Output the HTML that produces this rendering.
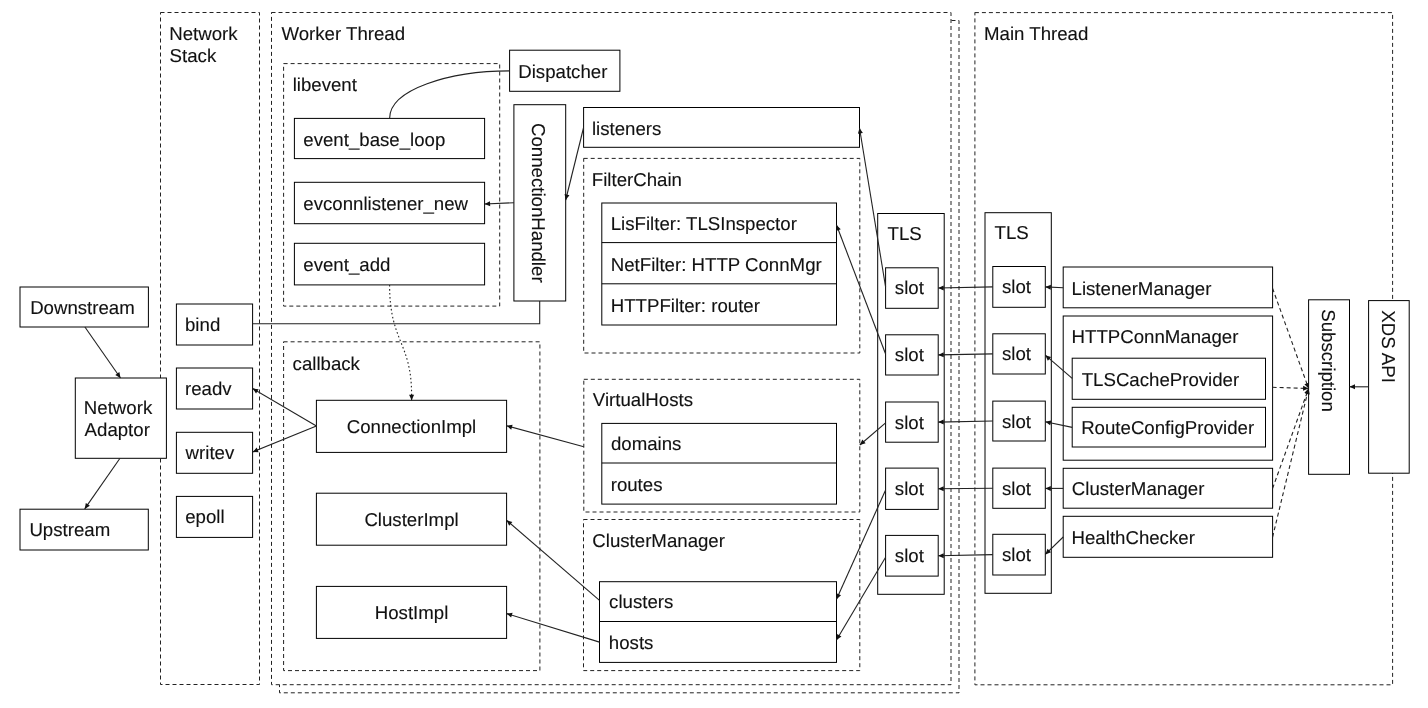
<!DOCTYPE html>
<html><head><meta charset="utf-8"><style>
html,body{margin:0;padding:0;background:#fff;width:1428px;height:708px;overflow:hidden}
svg{display:block;will-change:transform}
text{font-family:"Liberation Sans",sans-serif;font-size:18.65px;fill:#111;stroke:#111;stroke-width:0.12px;text-rendering:geometricPrecision}
</style></head><body>
<svg width="1428" height="708" viewBox="0 0 1428 708">
<rect width="1428" height="708" fill="#fff"/>
<rect x="160.5" y="12.5" width="99.00" height="672.00" fill="none" stroke="#222" stroke-width="1" stroke-dasharray="4 3"/>
<rect x="279.5" y="20.5" width="679.50" height="672.30" fill="#fff" stroke="#222" stroke-width="1" stroke-dasharray="4 3"/>
<rect x="271.5" y="12.5" width="679.50" height="672.20" fill="#fff" stroke="#222" stroke-width="1" stroke-dasharray="4 3"/>
<rect x="974.9" y="12.6" width="417.70" height="672.20" fill="none" stroke="#222" stroke-width="1" stroke-dasharray="4 3"/>
<text transform="translate(169.24,39.60) scale(1,1.0)" text-anchor="start">Network</text>
<text transform="translate(169.58,61.50) scale(1,1.0)" text-anchor="start">Stack</text>
<text transform="translate(281.46,39.60) scale(1,1.0)" text-anchor="start">Worker Thread</text>
<text transform="translate(984.04,39.60) scale(1,1.0)" text-anchor="start">Main Thread</text>
<rect x="283.6" y="63.6" width="216.10" height="242.50" fill="none" stroke="#222" stroke-width="1" stroke-dasharray="4 3"/>
<text transform="translate(292.67,90.60) scale(1,1.0)" text-anchor="start">libevent</text>
<rect x="283.6" y="341.8" width="256.30" height="328.80" fill="none" stroke="#222" stroke-width="1" stroke-dasharray="4 3"/>
<text transform="translate(292.6,369.60) scale(1,1.0)" text-anchor="start">callback</text>
<rect x="583.7" y="158.4" width="276.10" height="194.60" fill="none" stroke="#222" stroke-width="1" stroke-dasharray="4 3"/>
<text transform="translate(591.84,185.90) scale(1,1.0)" text-anchor="start">FilterChain</text>
<rect x="583.8" y="379.3" width="276.00" height="132.70" fill="none" stroke="#222" stroke-width="1" stroke-dasharray="4 3"/>
<text transform="translate(592.86,406.30) scale(1,1.0)" text-anchor="start">VirtualHosts</text>
<rect x="583.5" y="519.5" width="276.30" height="151.10" fill="none" stroke="#222" stroke-width="1" stroke-dasharray="4 3"/>
<text transform="translate(592.33,546.50) scale(1,1.0)" text-anchor="start">ClusterManager</text>
<rect x="20" y="287" width="128.40" height="40.00" fill="#fff" stroke="#000" stroke-width="1"/>
<text transform="translate(30.14,313.70) scale(1,1.0)" text-anchor="start">Downstream</text>
<rect x="75.3" y="378" width="91.10" height="80.30" fill="#fff" stroke="#000" stroke-width="1"/>
<text transform="translate(83.84,414.10) scale(1,1.0)" text-anchor="start">Network</text>
<text transform="translate(84.58,436.20) scale(1,1.0)" text-anchor="start">Adaptor</text>
<rect x="20" y="509.2" width="128.30" height="40.80" fill="#fff" stroke="#000" stroke-width="1"/>
<text transform="translate(29.38,535.90) scale(1,1.0)" text-anchor="start">Upstream</text>
<rect x="176.4" y="304" width="76.20" height="41.00" fill="#fff" stroke="#000" stroke-width="1"/>
<text transform="translate(185.0,330.70) scale(1,1.0)" text-anchor="start">bind</text>
<rect x="176.4" y="368" width="76.20" height="41.00" fill="#fff" stroke="#000" stroke-width="1"/>
<text transform="translate(184.98,394.70) scale(1,1.0)" text-anchor="start">readv</text>
<rect x="176.4" y="432.3" width="76.20" height="41.00" fill="#fff" stroke="#000" stroke-width="1"/>
<text transform="translate(185.61,459.00) scale(1,1.0)" text-anchor="start">writev</text>
<rect x="176.4" y="496.4" width="76.20" height="41.00" fill="#fff" stroke="#000" stroke-width="1"/>
<text transform="translate(185.2,523.10) scale(1,1.0)" text-anchor="start">epoll</text>
<rect x="294.4" y="118.4" width="190.20" height="40.20" fill="#fff" stroke="#000" stroke-width="1"/>
<text transform="translate(303.3,145.60) scale(1,1.0)" text-anchor="start">event_base_loop</text>
<rect x="294.4" y="182.3" width="190.20" height="41.40" fill="#fff" stroke="#000" stroke-width="1"/>
<text transform="translate(303.3,209.50) scale(1,1.0)" text-anchor="start">evconnlistener_new</text>
<rect x="294.4" y="243.3" width="190.20" height="41.60" fill="#fff" stroke="#000" stroke-width="1"/>
<text transform="translate(303.3,270.50) scale(1,1.0)" text-anchor="start">event_add</text>
<rect x="509.6" y="50.2" width="110.30" height="41.10" fill="#fff" stroke="#000" stroke-width="1"/>
<text transform="translate(518.24,77.70) scale(1,1.0)" text-anchor="start">Dispatcher</text>
<rect x="513.9" y="104.7" width="51.80" height="196.30" fill="#fff" stroke="#000" stroke-width="1"/>
<text x="0" y="0" text-anchor="middle" transform="translate(532.1,202.8) rotate(90) scale(1,1.0)">ConnectionHandler</text>
<rect x="583.6" y="107.5" width="275.90" height="39.80" fill="#fff" stroke="#000" stroke-width="1"/>
<text transform="translate(591.97,134.50) scale(1,1.0)" text-anchor="start">listeners</text>
<rect x="601.8" y="203" width="234.70" height="122.00" fill="#fff" stroke="#000" stroke-width="1"/>
<line x1="601.8" y1="242.6" x2="836.5" y2="242.6" stroke="#000" stroke-width="1"/>
<line x1="601.8" y1="283.8" x2="836.5" y2="283.8" stroke="#000" stroke-width="1"/>
<text transform="translate(610.74,229.70) scale(1,1.0)" text-anchor="start">LisFilter: TLSInspector</text>
<text transform="translate(610.74,270.70) scale(1,1.0)" text-anchor="start">NetFilter: HTTP ConnMgr</text>
<text transform="translate(610.74,311.70) scale(1,1.0)" text-anchor="start">HTTPFilter: router</text>
<rect x="316.4" y="400.3" width="190.20" height="52.10" fill="#fff" stroke="#000" stroke-width="1"/>
<text transform="translate(411.5,433.20) scale(1,1.0)" text-anchor="middle">ConnectionImpl</text>
<rect x="316.4" y="493.2" width="190.20" height="52.00" fill="#fff" stroke="#000" stroke-width="1"/>
<text transform="translate(411.5,526.10) scale(1,1.0)" text-anchor="middle">ClusterImpl</text>
<rect x="316.4" y="586.4" width="190.20" height="52.00" fill="#fff" stroke="#000" stroke-width="1"/>
<text transform="translate(411.5,619.30) scale(1,1.0)" text-anchor="middle">HostImpl</text>
<rect x="601.8" y="423.4" width="234.70" height="80.70" fill="#fff" stroke="#000" stroke-width="1"/>
<line x1="601.8" y1="463" x2="836.5" y2="463" stroke="#000" stroke-width="1"/>
<text transform="translate(610.91,449.80) scale(1,1.0)" text-anchor="start">domains</text>
<text transform="translate(610.68,490.70) scale(1,1.0)" text-anchor="start">routes</text>
<rect x="599.5" y="581.7" width="237.00" height="80.70" fill="#fff" stroke="#000" stroke-width="1"/>
<line x1="599.5" y1="621.5" x2="836.5" y2="621.5" stroke="#000" stroke-width="1"/>
<text transform="translate(609.1,608.40) scale(1,1.0)" text-anchor="start">clusters</text>
<text transform="translate(608.85,648.90) scale(1,1.0)" text-anchor="start">hosts</text>
<rect x="877.7" y="213.5" width="66.50" height="380.80" fill="#fff" stroke="#000" stroke-width="1"/>
<text transform="translate(887.59,239.70) scale(1,1.0)" text-anchor="start">TLS</text>
<rect x="885.6" y="267.8" width="52.60" height="40.50" fill="#fff" stroke="#000" stroke-width="1"/>
<text transform="translate(894.84,294.30) scale(1,1.0)" text-anchor="start">slot</text>
<rect x="885.6" y="334.8" width="52.60" height="40.20" fill="#fff" stroke="#000" stroke-width="1"/>
<text transform="translate(894.84,361.30) scale(1,1.0)" text-anchor="start">slot</text>
<rect x="885.6" y="402" width="52.60" height="40.20" fill="#fff" stroke="#000" stroke-width="1"/>
<text transform="translate(894.84,428.50) scale(1,1.0)" text-anchor="start">slot</text>
<rect x="885.6" y="468.1" width="52.60" height="41.30" fill="#fff" stroke="#000" stroke-width="1"/>
<text transform="translate(894.84,494.60) scale(1,1.0)" text-anchor="start">slot</text>
<rect x="885.6" y="535.4" width="52.60" height="40.70" fill="#fff" stroke="#000" stroke-width="1"/>
<text transform="translate(894.84,561.90) scale(1,1.0)" text-anchor="start">slot</text>
<rect x="985" y="212.7" width="66.30" height="380.60" fill="#fff" stroke="#000" stroke-width="1"/>
<text transform="translate(994.59,239.40) scale(1,1.0)" text-anchor="start">TLS</text>
<rect x="992.8" y="266.5" width="52.50" height="40.80" fill="#fff" stroke="#000" stroke-width="1"/>
<text transform="translate(1002.04,293.00) scale(1,1.0)" text-anchor="start">slot</text>
<rect x="992.8" y="333.8" width="52.50" height="40.20" fill="#fff" stroke="#000" stroke-width="1"/>
<text transform="translate(1002.04,360.30) scale(1,1.0)" text-anchor="start">slot</text>
<rect x="992.8" y="401.1" width="52.50" height="39.90" fill="#fff" stroke="#000" stroke-width="1"/>
<text transform="translate(1002.04,427.60) scale(1,1.0)" text-anchor="start">slot</text>
<rect x="992.8" y="468.1" width="52.50" height="40.20" fill="#fff" stroke="#000" stroke-width="1"/>
<text transform="translate(1002.04,494.60) scale(1,1.0)" text-anchor="start">slot</text>
<rect x="992.8" y="534.3" width="52.50" height="40.70" fill="#fff" stroke="#000" stroke-width="1"/>
<text transform="translate(1002.04,560.80) scale(1,1.0)" text-anchor="start">slot</text>
<rect x="1063.2" y="267" width="209.40" height="40.80" fill="#fff" stroke="#000" stroke-width="1"/>
<text transform="translate(1071.54,294.70) scale(1,1.0)" text-anchor="start">ListenerManager</text>
<rect x="1063.2" y="316" width="209.40" height="144.20" fill="#fff" stroke="#000" stroke-width="1"/>
<text transform="translate(1071.54,343.10) scale(1,1.0)" text-anchor="start">HTTPConnManager</text>
<rect x="1072.2" y="358.2" width="193.30" height="41.10" fill="#fff" stroke="#000" stroke-width="1"/>
<text transform="translate(1081.69,385.50) scale(1,1.0)" text-anchor="start">TLSCacheProvider</text>
<rect x="1072.2" y="407.3" width="193.30" height="39.70" fill="#fff" stroke="#000" stroke-width="1"/>
<text transform="translate(1081.14,434.20) scale(1,1.0)" text-anchor="start">RouteConfigProvider</text>
<rect x="1063.2" y="468.3" width="209.40" height="39.90" fill="#fff" stroke="#000" stroke-width="1"/>
<text transform="translate(1071.83,495.20) scale(1,1.0)" text-anchor="start">ClusterManager</text>
<rect x="1063.2" y="516.3" width="209.40" height="41.00" fill="#fff" stroke="#000" stroke-width="1"/>
<text transform="translate(1071.54,543.90) scale(1,1.0)" text-anchor="start">HealthChecker</text>
<rect x="1308.6" y="299.8" width="40.90" height="174.50" fill="#fff" stroke="#000" stroke-width="1"/>
<text x="0" y="0" text-anchor="middle" transform="translate(1322.1,360.5) rotate(90) scale(1,1.0)">Subscription</text>
<rect x="1368.6" y="300.6" width="40.60" height="172.60" fill="#fff" stroke="#000" stroke-width="1"/>
<text x="0" y="0" text-anchor="middle" transform="translate(1382.1,346.6) rotate(90) scale(1,1.0)">XDS API</text>
<path d="M84.9,327 L120.5,378" fill="none" stroke="#222" stroke-width="1.1"/>
<polygon points="120.5,378 115.30,374.92 119.40,372.06" fill="#111"/>
<path d="M120,458.3 L84.7,508.9" fill="none" stroke="#222" stroke-width="1.1"/>
<polygon points="84.7,508.9 85.80,502.96 89.90,505.82" fill="#111"/>
<path d="M252.6,323.8 L539.7,323.8 L539.7,301" fill="none" stroke="#222" stroke-width="1.1"/>
<path d="M316.4,426 L252.6,388.5" fill="none" stroke="#222" stroke-width="1.1"/>
<polygon points="252.6,388.5 258.61,389.13 256.07,393.44" fill="#111"/>
<path d="M316.4,426 L252.6,452" fill="none" stroke="#222" stroke-width="1.1"/>
<polygon points="252.6,452 256.75,447.61 258.64,452.24" fill="#111"/>
<path d="M513.9,202.7 L484.6,204" fill="none" stroke="#222" stroke-width="1.1"/>
<polygon points="484.6,204 489.98,201.26 490.21,206.25" fill="#111"/>
<path d="M583.6,127.5 L565.7,200" fill="none" stroke="#222" stroke-width="1.1"/>
<polygon points="565.7,200 564.59,194.06 569.45,195.26" fill="#111"/>
<path d="M509.6,70.9 C449.6,70.9 389.6,89.4 389.6,118.4" fill="none" stroke="#222" stroke-width="1.1"/>
<path d="M389.6,284.9 C389.6,342 411.6,342 411.6,395" fill="none" stroke="#222" stroke-width="1.1" stroke-dasharray="1.6 2.4"/>
<path d="M411.6,394 L411.6,400.3" fill="none" stroke="#222" stroke-width="1.1"/>
<polygon points="411.6,400.3 409.10,394.80 414.10,394.80" fill="#111"/>
<path d="M583.8,446.7 L506.6,425.8" fill="none" stroke="#222" stroke-width="1.1"/>
<polygon points="506.6,425.8 512.56,424.82 511.26,429.65" fill="#111"/>
<path d="M599.5,600.3 L506.6,520.3" fill="none" stroke="#222" stroke-width="1.1"/>
<polygon points="506.6,520.3 512.40,521.99 509.14,525.78" fill="#111"/>
<path d="M599.5,642.1 L506.6,613.6" fill="none" stroke="#222" stroke-width="1.1"/>
<polygon points="506.6,613.6 512.59,612.82 511.12,617.60" fill="#111"/>
<path d="M885.6,287 L859.5,128" fill="none" stroke="#222" stroke-width="1.1"/>
<polygon points="859.5,128 862.86,133.02 857.92,133.83" fill="#111"/>
<path d="M885.6,354 L836.5,225" fill="none" stroke="#222" stroke-width="1.1"/>
<polygon points="836.5,225 840.79,229.25 836.12,231.03" fill="#111"/>
<path d="M885.6,422.8 L859.8,445" fill="none" stroke="#222" stroke-width="1.1"/>
<polygon points="859.8,445 862.34,439.52 865.60,443.31" fill="#111"/>
<path d="M885.6,490 L836.5,599.2" fill="none" stroke="#222" stroke-width="1.1"/>
<polygon points="836.5,599.2 836.48,593.16 841.04,595.21" fill="#111"/>
<path d="M885.6,557.3 L836.5,640" fill="none" stroke="#222" stroke-width="1.1"/>
<polygon points="836.5,640 837.16,633.99 841.46,636.55" fill="#111"/>
<path d="M992.8,286.9 L938.2,288.05" fill="none" stroke="#222" stroke-width="1.1"/>
<polygon points="938.2,288.05 943.65,285.43 943.75,290.43" fill="#111"/>
<path d="M992.8,353.9 L938.2,354.9" fill="none" stroke="#222" stroke-width="1.1"/>
<polygon points="938.2,354.9 943.65,352.30 943.74,357.30" fill="#111"/>
<path d="M992.8,421.05 L938.2,422.1" fill="none" stroke="#222" stroke-width="1.1"/>
<polygon points="938.2,422.1 943.65,419.49 943.75,424.49" fill="#111"/>
<path d="M992.8,488.20000000000005 L938.2,488.75" fill="none" stroke="#222" stroke-width="1.1"/>
<polygon points="938.2,488.75 943.67,486.19 943.72,491.19" fill="#111"/>
<path d="M992.8,554.65 L938.2,555.75" fill="none" stroke="#222" stroke-width="1.1"/>
<polygon points="938.2,555.75 943.65,553.14 943.75,558.14" fill="#111"/>
<path d="M1063.2,287.8 L1045.3,286.9" fill="none" stroke="#222" stroke-width="1.1"/>
<polygon points="1045.3,286.9 1050.92,284.68 1050.67,289.67" fill="#111"/>
<path d="M1072.2,378.3 L1045.3,355.2" fill="none" stroke="#222" stroke-width="1.1"/>
<polygon points="1045.3,355.2 1051.10,356.89 1047.84,360.68" fill="#111"/>
<path d="M1072.2,427.4 L1045.3,421.8" fill="none" stroke="#222" stroke-width="1.1"/>
<polygon points="1045.3,421.8 1051.19,420.47 1050.18,425.37" fill="#111"/>
<path d="M1063.2,488.4 L1045.3,488.4" fill="none" stroke="#222" stroke-width="1.1"/>
<polygon points="1045.3,488.4 1050.80,485.90 1050.80,490.90" fill="#111"/>
<path d="M1063.2,537 L1045.3,554.4" fill="none" stroke="#222" stroke-width="1.1"/>
<polygon points="1045.3,554.4 1047.50,548.77 1050.99,552.36" fill="#111"/>
<path d="M1368.6,386.8 L1349.5,386.8" fill="none" stroke="#222" stroke-width="1.1"/>
<polygon points="1349.5,386.8 1355.00,384.30 1355.00,389.30" fill="#111"/>
<path d="M1272.6,288.4 L1308.6,388.5" fill="none" stroke="#222" stroke-width="1.1" stroke-dasharray="4 3"/>
<polygon points="1308.6,388.5 1304.39,384.17 1309.09,382.48" fill="#111"/>
<path d="M1272.6,387.3 L1308.6,388.5" fill="none" stroke="#222" stroke-width="1.1" stroke-dasharray="4 3"/>
<polygon points="1308.6,388.5 1303.02,390.82 1303.19,385.82" fill="#111"/>
<path d="M1272.6,488.4 L1308.6,388.5" fill="none" stroke="#222" stroke-width="1.1" stroke-dasharray="4 3"/>
<polygon points="1308.6,388.5 1309.09,394.52 1304.38,392.83" fill="#111"/>
<path d="M1272.6,537 L1308.6,388.5" fill="none" stroke="#222" stroke-width="1.1" stroke-dasharray="4 3"/>
<polygon points="1308.6,388.5 1309.73,394.43 1304.87,393.26" fill="#111"/>
</svg></body></html>
